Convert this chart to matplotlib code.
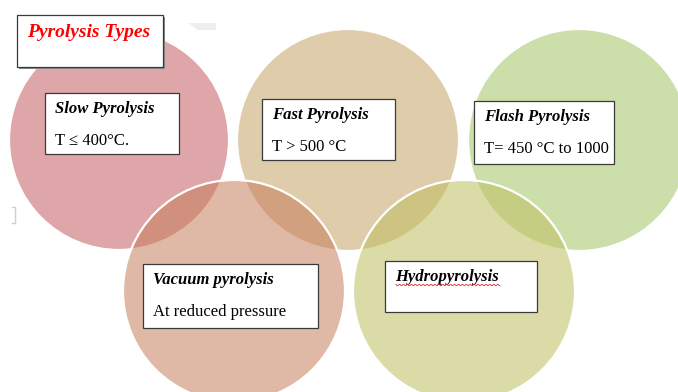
import numpy as np
import matplotlib.pyplot as plt
from matplotlib.patches import Circle, Rectangle, Polygon

# circles: centre x, centre y, radius (pixel space, y down)
circle_x = [119, 348, 579, 234, 464]
circle_y = [140, 140, 140, 291, 291]
circle_r = [110, 111, 111, 111, 111]
circle_col = ['#c35d61', '#c3a264', '#a2c364', '#c77e5d', '#bfbf61']

# boxes: left, top, right, bottom
box_l = [45, 262, 474, 143, 385]
box_t = [93, 99, 101, 264, 261]
box_r = [179, 395, 614, 318, 537]
box_b = [154, 160, 164, 328, 312]
titles = ['Slow Pyrolysis', 'Fast Pyrolysis', 'Flash Pyrolysis',
          'Vacuum pyrolysis', 'Hydropyrolysis']
details = ['T ≤ 400°C.', 'T > 500 °C', 'T= 450 °C to 1000',
           'At reduced pressure', '']

serif = ['Liberation Serif', 'DejaVu Serif']

fig = plt.figure(figsize=(6.78, 3.92), dpi=100)
ax = fig.add_axes([0, 0, 1, 1])
ax.set_xlim(0, 678)
ax.set_ylim(392, 0)
ax.set_aspect('equal')
ax.axis('off')

for x, y, r, c in zip(circle_x, circle_y, circle_r, circle_col):
    ax.add_patch(Circle((x, y), r, facecolor=c, alpha=0.55,
                        edgecolor='none', zorder=2))
    ax.add_patch(Circle((x, y), r, facecolor='none', edgecolor='white',
                        lw=1.6, zorder=2))

def box(l, t, r, b, shadow=False):
    if shadow:
        ax.add_patch(Rectangle((l + 2, t + 2), r - l, b - t, facecolor='#8a8a8a',
                               edgecolor='none', zorder=4))
    ax.add_patch(Rectangle((l, t), r - l, b - t, facecolor='white',
                           edgecolor='#3a3a3a', lw=0.9, zorder=5))

for i in range(len(titles)):
    box(box_l[i], box_t[i], box_r[i], box_b[i])
    ax.text(box_l[i] + 10, box_t[i] + 16, titles[i], family=serif,
            fontsize=12, fontweight='bold', fontstyle='italic',
            va='center', ha='left', zorder=6)
    if details[i]:
        ax.text(box_l[i] + 10, box_t[i] + 48, details[i], family=serif,
                fontsize=12, va='center', ha='left', zorder=6)

# spell-check squiggle under Hydropyrolysis
wx = np.linspace(396, 500, 120)
ax.plot(wx, 285 + 0.8 * np.sin(wx * 1.6), color='#e03030', lw=0.6, zorder=6)

# heading box
box(17, 15, 163, 67, shadow=True)
ax.text(27, 32, 'Pyrolysis Types', family=serif, fontsize=14,
        fontweight='bold', fontstyle='italic', color='#ff0000',
        va='center', ha='left', zorder=6)

# stray grey marks
ax.add_patch(Polygon([[188, 23], [216, 23], [216, 30], [198, 30]],
                     facecolor='#eceef1', edgecolor='none', zorder=1))
ax.plot([12, 15, 15, 12], [207, 207, 223, 223], color='#d0d0d0', lw=1, zorder=1)

fig.savefig('out.png', dpi=100)
